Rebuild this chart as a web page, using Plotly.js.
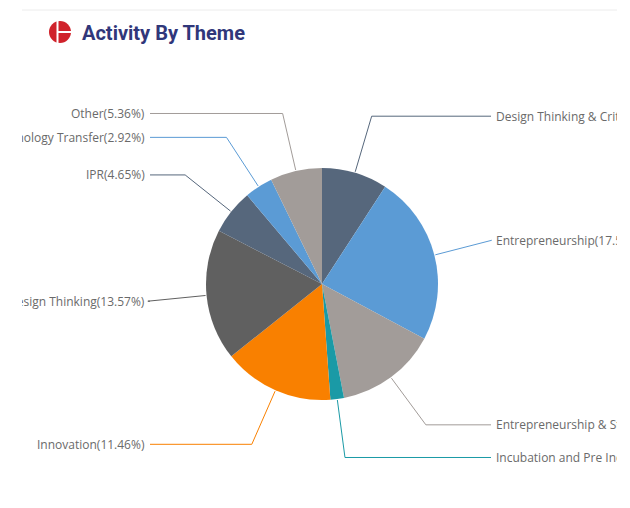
<!DOCTYPE html>
<html>
<head>
<meta charset="utf-8">
<script src="https://cdn.plot.ly/plotly-3.0.1.min.js"></script>
<style>
  html, body { margin: 0; padding: 0; background: #fff; }
  #chart { width: 630px; height: 508px; clip-path: inset(0 13px 0 22px); }
</style>
</head>
<body>
<div id="chart"></div>
<script>
// ---- data ----
const themes = [
  "Design Thinking & Critical Thinking",
  "Entrepreneurship",
  "Entrepreneurship & Startup",
  "Incubation and Pre Incubation",
  "Innovation",
  "Design Thinking",
  "IPR",
  "Technology Transfer",
  "Other"
];
const shares = [6.80, 17.55, 10.50, 1.40, 11.46, 13.57, 4.65, 2.92, 5.36];
const sliceColors = ["#56677c", "#5b9bd5", "#a29c99", "#1a9aa6", "#f98000", "#606060", "#56677c", "#5b9bd5", "#a29c99"];

// ---- layout geometry ----
const W = 630, H = 508;
const domX = [(322 - 116) / W, (322 + 116) / W];
const domY = [1 - 400 / H, 1 - 168 / H];
const cx = (domX[0] + domX[1]) / 2 * W;
const cy = (1 - (domY[0] + domY[1]) / 2) * H;
const r = Math.min((domX[1] - domX[0]) * W, (domY[1] - domY[0]) * H) / 2;
const elbowR = r + 59;
const rightX = 491, leftX = 150;

const px = x => x / W;
const py = y => 1 - y / H;

const total = shares.reduce((a, b) => a + b, 0);
const shapes = [];
const annotations = [];
let cum = 0;
shares.forEach((v, i) => {
  const mid = (cum + v / 2) / total * 2 * Math.PI;
  cum += v;
  const s = Math.sin(mid), c = Math.cos(mid);
  const x0 = cx + (r + 1) * s, y0 = cy - (r + 1) * c;
  const x1 = cx + elbowR * s, y1 = cy - elbowR * c;
  const right = s >= 0;
  const x2 = right ? rightX : leftX;
  shapes.push({
    type: 'path', xref: 'paper', yref: 'paper', layer: 'below',
    path: `M ${px(x0)},${py(y0)} L ${px(x1)},${py(y1)} L ${px(x2)},${py(y1)}`,
    line: { color: sliceColors[i], width: 1 }
  });
  annotations.push({
    xref: 'paper', yref: 'paper', showarrow: false,
    x: px(right ? x2 + 3 : x2 - 3), y: py(y1),
    xanchor: right ? 'left' : 'right', yanchor: 'middle',
    text: themes[i] + '(' + v.toFixed(2) + '%)',
    font: { family: 'Open Sans, sans-serif', size: 12, color: '#6a6a6a' }
  });
});

// header decorations (card border + logo)
shapes.push({ type: 'line', xref: 'paper', yref: 'paper', x0: px(10), x1: px(630), y0: py(10), y1: py(10), line: { color: '#ececec', width: 1 } });
shapes.push({ type: 'circle', xref: 'paper', yref: 'paper', x0: px(49), x1: px(71), y0: py(43), y1: py(21), fillcolor: '#d0222b', line: { width: 0 } });
shapes.push({ type: 'line', xref: 'paper', yref: 'paper', x0: px(57.5), x1: px(57.5), y0: py(21), y1: py(43), line: { color: '#ffffff', width: 2 } });
shapes.push({ type: 'line', xref: 'paper', yref: 'paper', x0: px(57.5), x1: px(72), y0: py(32), y1: py(32), line: { color: '#ffffff', width: 2 } });

const trace = {
  type: 'pie',
  labels: themes,
  values: shares,
  sort: false,
  direction: 'clockwise',
  rotation: 0,
  textinfo: 'none',
  hoverinfo: 'label+percent',
  marker: { colors: sliceColors, line: { width: 0 } },
  domain: { x: domX, y: domY },
  showlegend: false
};

const layout = {
  width: W, height: H,
  margin: { l: 0, r: 0, t: 0, b: 0 },
  paper_bgcolor: '#ffffff',
  title: {
    text: '<b>Activity By Theme</b>',
    x: px(82), xanchor: 'left', xref: 'paper',
    y: py(33), yanchor: 'middle',
    font: { family: 'Roboto, sans-serif', size: 20, color: '#30377a' }
  },
  shapes: shapes,
  annotations: annotations
};

Plotly.newPlot('chart', [trace], layout, { displayModeBar: false, staticPlot: true });
</script>
</body>
</html>
